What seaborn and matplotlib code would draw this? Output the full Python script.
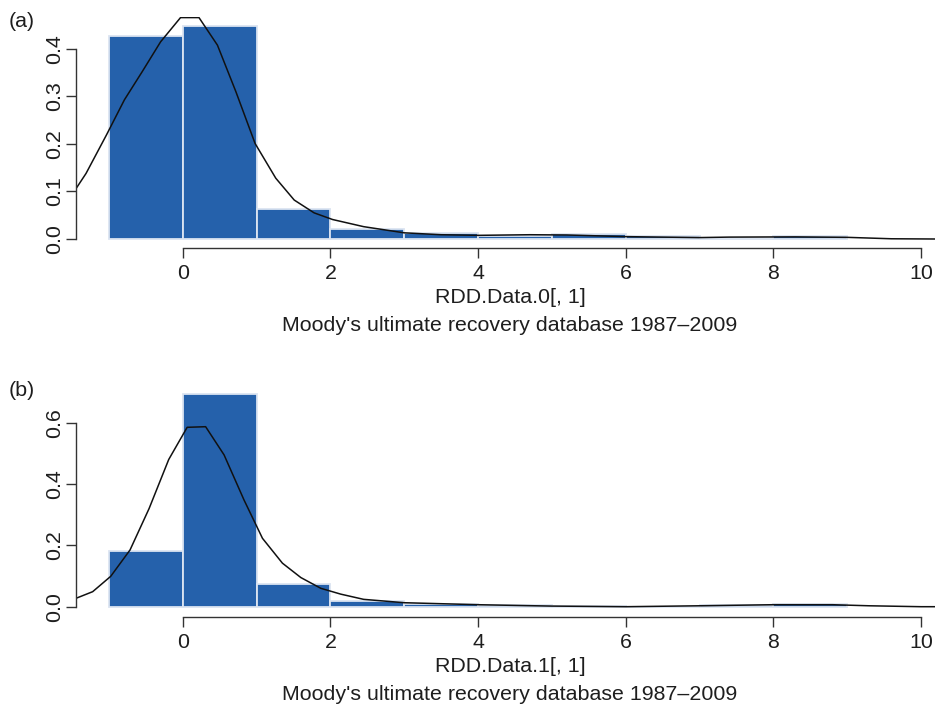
import numpy as np
import pandas as pd
import matplotlib
matplotlib.use("Agg")
import matplotlib.pyplot as plt
import seaborn as sns

# ---- data ----
bin_edges = [-1, 0, 1, 2, 3, 4, 5, 6, 7, 8, 9]
dens_a = [0.427, 0.448, 0.064, 0.021, 0.012, 0.006, 0.010, 0.006, 0.003, 0.006]
dens_b = [0.1815, 0.693, 0.075, 0.017, 0.010, 0.006, 0.001, 0.0, 0.004, 0.009]

curve_a_x = [-1.45, -1.31, -1.03, -0.79, -0.55, -0.30, -0.03, 0.22, 0.47, 0.72, 0.98,
             1.26, 1.51, 1.78, 2.03, 2.45, 3.0, 3.5, 4.0, 4.7, 5.2, 6.0, 7.0, 7.4,
             8.3, 9.0, 9.6, 10.2]
curve_a_y = [0.105, 0.138, 0.220, 0.293, 0.352, 0.415, 0.466, 0.466, 0.408, 0.310, 0.201,
             0.128, 0.082, 0.055, 0.041, 0.026, 0.013, 0.009, 0.0077, 0.009, 0.0085, 0.005,
             0.003, 0.004, 0.0045, 0.0035, 0.0005, 0.0]

curve_b_x = [-1.45, -1.22, -0.976, -0.714, -0.456, -0.19, 0.06, 0.31, 0.56, 0.83, 1.08,
             1.35, 1.60, 1.87, 2.14, 2.45, 3.0, 4.0, 5.0, 6.0, 7.0, 8.0, 8.8, 9.3, 10.0, 10.2]
curve_b_y = [0.027, 0.049, 0.099, 0.185, 0.320, 0.480, 0.585, 0.587, 0.495, 0.348, 0.223,
             0.142, 0.095, 0.060, 0.041, 0.024, 0.013, 0.0065, 0.002, 0.0, 0.003, 0.0065,
             0.0065, 0.003, 0.0, 0.0]

x_ticks = [0, 2, 4, 6, 8, 10]
y_ticks_a = [0.0, 0.1, 0.2, 0.3, 0.4]
y_ticks_b = [0.0, 0.2, 0.4, 0.6]
panel_labels = ["(a)", "(b)"]
x_labels = ["RDD.Data.0[, 1]", "RDD.Data.1[, 1]"]
subtitle = "Moody's ultimate recovery database 1987\u20132009"

# ---- styling ----
sns.set_style("white")
plt.rcParams["font.family"] = ["Liberation Sans", "DejaVu Sans"]
TXT = "#1e1e1e"
BAR = "#2561AB"
EDGE = "#dbe4f1"
FS = 15.4

fig = plt.figure(figsize=(9.35, 7.07), dpi=100)
W, H = 935.0, 707.0

panels = [
    dict(dens=dens_a, cx=curve_a_x, cy=curve_a_y, yt=y_ticks_a,
         top=16.5, bot=247.7, ylim=(-0.0183, 0.4683)),
    dict(dens=dens_b, cx=curve_b_x, cy=curve_b_y, yt=y_ticks_b,
         top=385.7, bot=616.7, ylim=(-0.0326, 0.7207)),
]

left_px, right_px = 75.7, 935.0
for i, p in enumerate(panels):
    ax = fig.add_axes([left_px / W, 1 - p["bot"] / H,
                       (right_px - left_px) / W, (p["bot"] - p["top"]) / H])
    centers = [(bin_edges[k] + bin_edges[k + 1]) / 2 for k in range(len(p["dens"]))]
    df = pd.DataFrame({"x": centers, "w": p["dens"]})
    sns.histplot(data=df, x="x", weights="w", bins=bin_edges, stat="count",
                 color=BAR, alpha=1, edgecolor=EDGE, linewidth=1.3, ax=ax)
    cdf = pd.DataFrame({"x": p["cx"], "y": p["cy"]})
    sns.lineplot(data=cdf, x="x", y="y", sort=False, estimator=None,
                 color="#111111", linewidth=1.1, ax=ax)

    ax.set_xlim(-1.45, 10.19)
    ax.set_ylim(*p["ylim"])
    for s in ["top", "right"]:
        ax.spines[s].set_visible(False)
    for s in ["bottom", "left"]:
        ax.spines[s].set_visible(True)
        ax.spines[s].set_color("#333333")
        ax.spines[s].set_linewidth(1.0)
    ax.spines["bottom"].set_bounds(0, 10)
    ax.spines["left"].set_bounds(p["yt"][0], p["yt"][-1])
    ax.set_xticks(x_ticks)
    ax.set_xticklabels([str(t) for t in x_ticks], fontsize=FS, color=TXT)
    ax.set_yticks(p["yt"])
    ax.set_yticklabels([f"{t:.1f}" for t in p["yt"]], fontsize=FS, color=TXT,
                       rotation=90, va="center")
    ax.tick_params(axis="both", direction="out", length=7, width=1.0,
                   color="#333333", bottom=True, left=True)
    ax.tick_params(axis="x", pad=5)
    ax.tick_params(axis="y", pad=1.5)
    ax.set_xlabel("")
    ax.set_ylabel("")
    ax.grid(False)

    # labels below axis
    base = p["bot"]
    fig.text(510 / W, 1 - (base + 49.5) / H, x_labels[i], ha="center", va="center",
             fontsize=FS, color=TXT)
    fig.text(510 / W, 1 - (base + 78) / H, subtitle, ha="center", va="center",
             fontsize=FS, color=TXT)
    fig.text(9 / W, 1 - (p["top"] + 5) / H, panel_labels[i], ha="left", va="center",
             fontsize=FS, color=TXT)

fig.savefig("out.png", dpi=100, facecolor="white")
